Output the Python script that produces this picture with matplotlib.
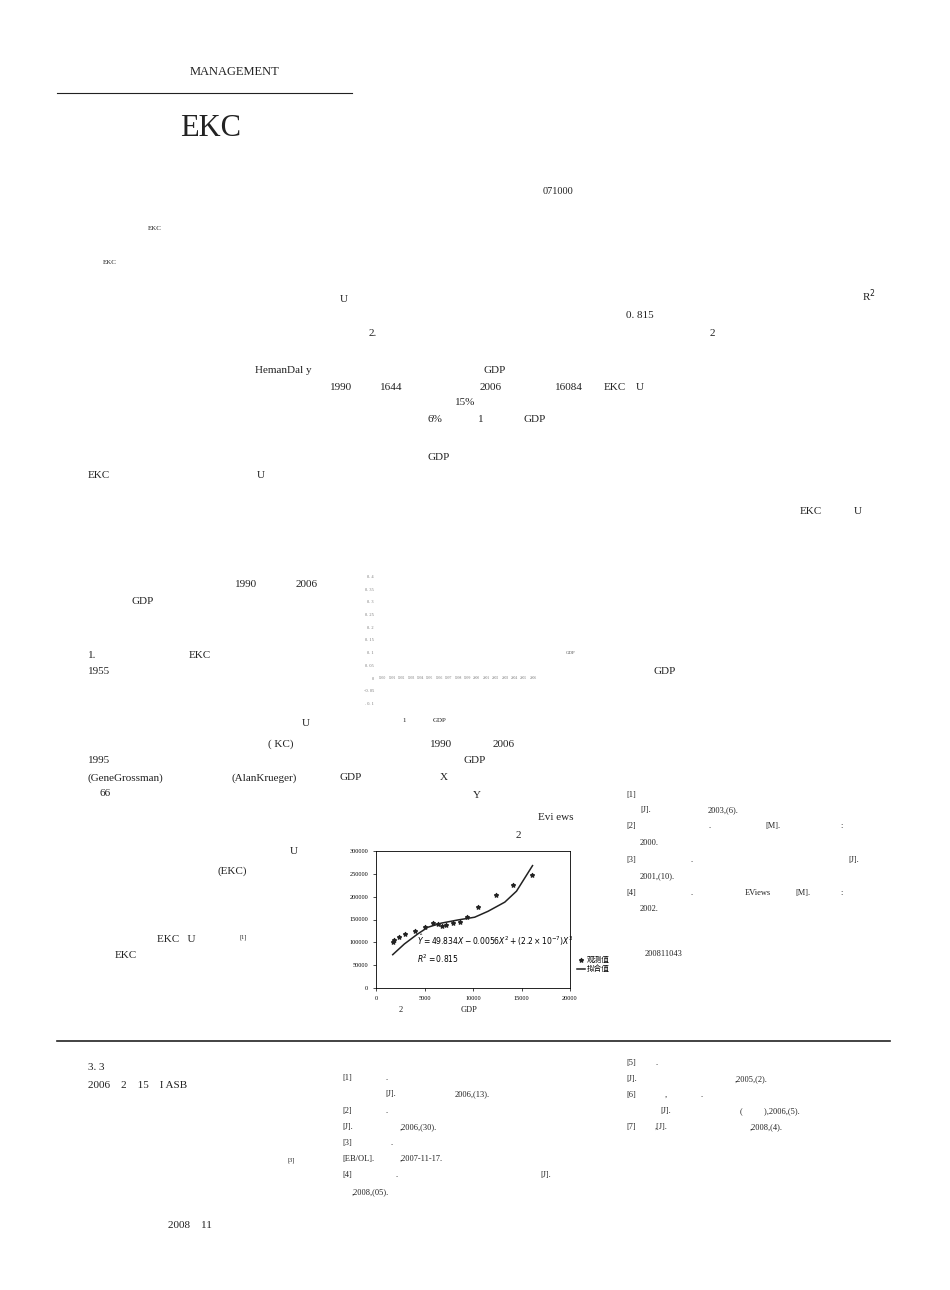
import matplotlib
matplotlib.use("Agg")
import matplotlib.pyplot as plt

W, H = 950, 1290
fig = plt.figure(figsize=(9.5, 12.9), dpi=100)
plt.rcParams['font.family'] = ['Liberation Serif', 'Noto Sans CJK SC', 'DejaVu Sans']

# ---- data ----
years = ["1990","1991","1992","1993","1994","1995","1996","1997","1998","1999",
         "2000","2001","2002","2003","2004","2005","2006"]
y1_ticks = [-0.1, -0.05, 0, 0.05, 0.1, 0.15, 0.2, 0.25, 0.3, 0.35, 0.4]
y1_labels = [". 0. 1", "-0. 05", "0", "0. 05", "0. 1", "0. 15", "0. 2", "0. 25", "0. 3", "0. 35", "0. 4"]

gdp_obs = [1724, 1897, 2414, 3034, 4034, 5069, 5862, 6380, 6827, 7241, 7931, 8690,
           9414, 10517, 12345, 14138, 16103]
pol_obs = [101700, 105000, 112600, 118500, 125800, 134600, 142000, 140400, 135300,
           137500, 142000, 144800, 155000, 177000, 204000, 226000, 248000]
gdp_fit = [1724, 2931, 4310, 5345, 6724, 8448, 10172, 11552, 13276, 14483, 16138]
pol_fit = [73000, 96500, 118500, 133000, 142000, 149000, 155000, 168000, 188000, 212000, 268000]

def T(x, y, s, size=8, **kw):
    fig.text(x / W, 1 - y / H, s, fontsize=size, va='center', ha=kw.pop('ha', 'left'),
             color=kw.pop('color', '#222222'), **kw)

def L(x0, x1, y, lw=0.8):
    fig.add_artist(plt.Line2D([x0 / W, x1 / W], [1 - y / H, 1 - y / H], color='#222222', lw=lw))

L(57, 352, 93)
L(57, 890, 1041, lw=1.2)

items = [
    (190, 72, "MANAGEMENT", 9), (180, 128, "EKC", 22), (543, 192, "071000", 7.5),
    (148, 229, "EKC", 5), (103, 262, "EKC", 5),
    (340, 299, "U", 8), (862, 296, "R$^2$", 8), (626, 316, "0. 815", 8), (369, 333, "2.", 8), (710, 333, "2", 8),
    (255, 371, "HemanDal y", 8), (484, 371, "GDP", 8),
    (330, 387, "1990", 8), (380, 387, "1644", 8), (480, 387, "2006", 8), (555, 387, "16084", 8),
    (604, 387, "EKC", 8), (636, 387, "U", 8),
    (455, 403, "15%", 8), (428, 420, "6%", 8), (478, 420, "1", 8), (523, 420, "GDP", 8),
    (427, 458, "GDP", 8), (88, 475, "EKC", 8), (257, 475, "U", 8),
    (800, 511, "EKC", 8), (854, 511, "U", 8),
    (235, 584, "1990", 8), (296, 584, "2006", 8), (132, 601, "GDP", 8),
    (88, 655, "1.", 8), (189, 655, "EKC", 8), (88, 672, "1955", 8), (653, 672, "GDP", 8),
    (302, 724, "U", 8), (402, 720, "1", 5), (433, 720, "GDP", 5),
    (268, 744, "( KC)", 8), (430, 744, "1990", 8), (493, 744, "2006", 8), (88, 760, "1995", 8),
    (464, 760, "GDP", 8),
    (88, 778, "(GeneGrossman)", 8), (232, 778, "(AlanKrueger)", 8), (340, 778, "GDP", 8),
    (440, 778, "X", 8), (100, 793, "66", 8), (473, 795, "Y", 8),
    (538, 818, "Evi ews", 8), (516, 836, "2", 8), (290, 852, "U", 8), (218, 871, "(EKC)", 8),
    (157, 940, "EKC   U", 8), (239, 937, "[1]", 4.5), (115, 956, "EKC", 8),
    (626, 795, "[1]", 6), (640, 810, "[J].", 6), (708, 810, "2003,(6).", 6),
    (626, 826, "[2]", 6), (708, 826, ".", 6), (765, 826, "[M].", 6), (840, 826, ":", 6),
    (640, 843, "2000.", 6), (626, 860, "[3]", 6), (690, 860, ".", 6), (848, 860, "[J].", 6),
    (640, 876, "2001,(10).", 6), (626, 893, "[4]", 6), (690, 893, ".", 6), (745, 893, "EViews", 6),
    (795, 893, "[M].", 6), (840, 893, ":", 6), (640, 909, "2002.", 6),
    (645, 954, "200811043", 6),
    (399, 1010, "2", 6), (461, 1010, "GDP", 6),
    (88, 1068, "3. 3", 8), (88, 1085, "2006    2    15    I ASB", 8), (287, 1160, "[3]", 4.5),
    (168, 1225, "2008    11", 8),
    (342, 1078, "[1]", 6), (385, 1078, ".", 6), (385, 1094, "[J].", 6), (455, 1094, "2006,(13).", 6),
    (342, 1111, "[2]", 6), (385, 1111, ".", 6), (342, 1127, "[J].", 6), (400, 1127, ",2006,(30).", 6),
    (342, 1143, "[3]", 6), (390, 1143, ".", 6), (342, 1159, "[EB/OL].", 6), (400, 1159, ",2007-11-17.", 6),
    (342, 1175, "[4]", 6), (395, 1175, ".", 6), (540, 1175, "[J].", 6), (352, 1192, ",2008,(05).", 6),
    (626, 1063, "[5]", 6), (655, 1063, ".", 6), (626, 1079, "[J].", 6), (735, 1079, ",2005,(2).", 6),
    (626, 1095, "[6]", 6), (665, 1095, ",", 6), (700, 1095, ".", 6), (660, 1111, "[J].", 6),
    (740, 1111, "(          ),2006,(5).", 6), (626, 1127, "[7]", 6), (655, 1127, ",[J].", 6),
    (750, 1127, ",2008,(4).", 6),
]
for x, y, s, sz in items:
    T(x, y, s, sz)

# ---- chart 1 (blank axes) ----
ax1 = fig.add_axes([378 / W, 1 - 706 / H, 160 / W, 132 / H])
ax1.set_ylim(-0.11, 0.41)
ax1.set_xlim(-0.5, len(years) - 0.5)
for sp in ax1.spines.values():
    sp.set_visible(False)
ax1.set_yticks(y1_ticks)
ax1.set_yticklabels(y1_labels, fontsize=3.2, color='#777777')
ax1.tick_params(length=0, pad=3)
ax1.set_xticks([])
for i, yr in enumerate(years):
    ax1.text(i, 0, yr, fontsize=2.6, color='#777777', ha='center', va='center')
ax1.text(len(years) + 2.5, 0.1, "GDP", fontsize=3.5, color='#555555', ha='left', va='center')
ax1.patch.set_alpha(0)

# ---- chart 2 ----
ax2 = fig.add_axes([376 / W, 1 - 988 / H, 194 / W, 137 / H])
ax2.set_xlim(0, 20000)
ax2.set_ylim(0, 300000)
ax2.scatter(gdp_obs, pol_obs, marker='*', s=8, color='#222222', zorder=3, label="观测值")
ax2.plot(gdp_fit, pol_fit, color='#222222', lw=1.1, label="拟合值")
ax2.set_xticks([0, 5000, 10000, 15000, 20000])
ax2.set_yticks([0, 50000, 100000, 150000, 200000, 250000, 300000])
ax2.tick_params(labelsize=4.5, length=2, width=0.5)
for sp in ax2.spines.values():
    sp.set_linewidth(0.6)
ax2.text(4200, 95000, r"$\hat{Y}=49.834X-0.0056X^2+(2.2\times10^{-7})X^3$", fontsize=5.5)
ax2.text(4200, 55000, r"$R^2=0.815$", fontsize=5.5)
ax2.legend(loc='center left', bbox_to_anchor=(1.0, 0.17), frameon=False,
           handlelength=1.0, handletextpad=0.3, labelspacing=0.2,
           prop={'family': 'Noto Sans CJK SC', 'size': 5.5})

fig.savefig("out.png", dpi=100)
